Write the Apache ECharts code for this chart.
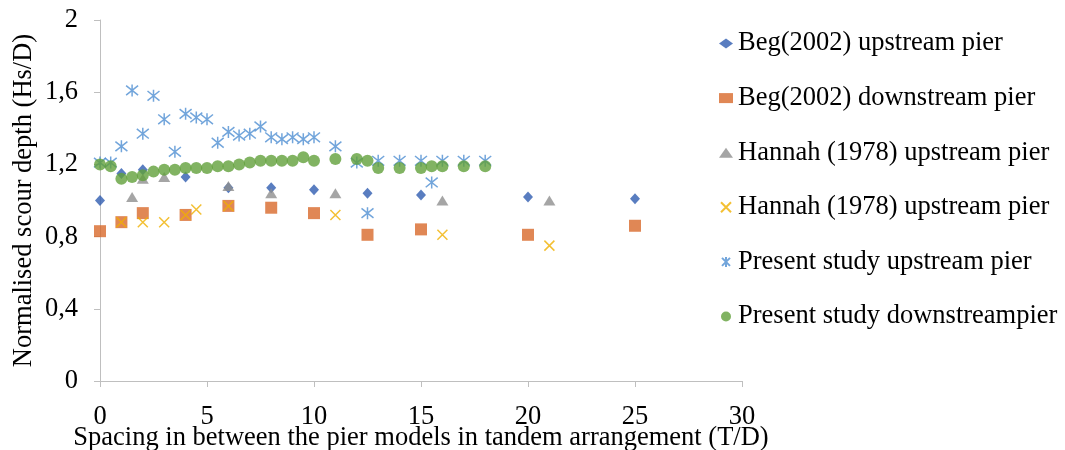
<!DOCTYPE html>
<html>
<head>
    <meta charset="utf-8">
    <script src="https://cdn.jsdelivr.net/npm/echarts@6/dist/echarts.min.js"></script>
</head>
<body style="margin:0">
<div id="main" style="width: 1065px;height:450px;"></div>

<script type="text/javascript">
    // data
    var begX = [0, 1, 2, 4, 6, 8, 10, 12.5, 15, 20, 25];
    var begUp = [1.00, 1.15, 1.17, 1.13, 1.07, 1.07, 1.06, 1.04, 1.03, 1.02, 1.01];
    var begDown = [0.83, 0.88, 0.93, 0.92, 0.97, 0.96, 0.93, 0.81, 0.84, 0.81, 0.86];

    var hannahUpX = [1.5, 2, 3, 6, 8, 11, 16, 21];
    var hannahUp = [1.02, 1.12, 1.13, 1.08, 1.04, 1.04, 1.00, 1.00];
    var hannahCrossX = [1, 2, 3, 4, 4.5, 6, 11, 16, 21];
    var hannahCross = [0.88, 0.88, 0.88, 0.92, 0.95, 0.97, 0.92, 0.81, 0.75];

    var presentX = [0, 0.5, 1, 1.5, 2, 2.5, 3, 3.5, 4, 4.5, 5, 5.5, 6, 6.5, 7, 7.5, 8, 8.5, 9, 9.5, 10, 11, 12, 12.5, 13, 14, 15, 15.5, 16, 17, 18];
    var presentUp = [1.21, 1.21, 1.30, 1.61, 1.37, 1.58, 1.45, 1.27, 1.48, 1.46, 1.45, 1.32, 1.38, 1.36, 1.37, 1.41, 1.35, 1.34, 1.35, 1.34, 1.35, 1.30, 1.21, 0.93, 1.22, 1.22, 1.22, 1.10, 1.22, 1.22, 1.22];
    var presentDown = [1.20, 1.19, 1.12, 1.13, 1.14, 1.16, 1.17, 1.17, 1.18, 1.18, 1.18, 1.19, 1.19, 1.20, 1.21, 1.22, 1.22, 1.22, 1.22, 1.24, 1.22, 1.23, 1.23, 1.22, 1.18, 1.18, 1.18, 1.19, 1.19, 1.19, 1.19];

    var pair = function (xs, ys) {
        var out = [];
        for (var i = 0; i < xs.length; i++) out.push([xs[i], ys[i]]);
        return out;
    };

    var crossPath = 'path://M0,0L10,10M10,0L0,10';
    var starPath = 'path://M1,1L9,9M9,1L1,9M5,0L5,10';
    var font = 'Liberation Serif';
    var fs = 26.5;

    var myChart = echarts.init(document.getElementById('main'));

    var option = {
        animation: false,
        textStyle: {fontFamily: font},
        grid: {left: 100, right: 323, top: 20, bottom: 69, outerBoundsMode: 'none'},
        legend: {
            orient: 'vertical',
            left: 714,
            top: 25,
            itemWidth: 14,
            itemHeight: 10,
            itemGap: 27.6,
            textStyle: {fontFamily: font, fontSize: fs, color: '#000'}
        },
        xAxis: {
            type: 'value',
            min: 0, max: 30, interval: 5,
            name: 'Spacing in between the pier models in tandem arrangement (T/D)',
            nameLocation: 'middle',
            nameGap: 44,
            nameMoveOverlap: false,
            nameTextStyle: {fontFamily: font, fontSize: fs, color: '#000'},
            axisLine: {lineStyle: {color: '#bfbfbf', width: 1}},
            axisTick: {show: true, length: 6, lineStyle: {color: '#bfbfbf'}},
            axisLabel: {margin: 23, fontFamily: font, fontSize: fs, color: '#000'},
            splitLine: {show: false}
        },
        yAxis: {
            type: 'value',
            min: 0, max: 2, interval: 0.4,
            name: 'Normalised scour depth (Hs/D)',
            nameLocation: 'middle',
            nameGap: 62,
            nameMoveOverlap: false,
            nameTextStyle: {fontFamily: font, fontSize: fs, color: '#000'},
            axisLine: {show: true, lineStyle: {color: '#bfbfbf', width: 1}},
            axisTick: {show: true, length: 6, lineStyle: {color: '#bfbfbf'}},
            axisLabel: {
                margin: 22, fontFamily: font, fontSize: fs, color: '#000',
                formatter: function (v) {
                    return String(Math.round(v * 10) / 10).replace('.', ',');
                }
            },
            splitLine: {show: false}
        },
        series: [
            {
                name: 'Beg(2002) upstream pier', type: 'scatter',
                symbol: 'diamond', symbolSize: [10, 11],
                itemStyle: {color: '#2f5db0'},
                data: pair(begX, begUp)
            },
            {
                name: 'Beg(2002) downstream pier', type: 'scatter',
                symbol: 'rect', symbolSize: 12,
                itemStyle: {color: '#d8692a'},
                data: pair(begX, begDown)
            },
            {
                name: 'Hannah (1978) upstream pier', type: 'scatter',
                symbol: 'triangle', symbolSize: [12, 10],
                itemStyle: {color: '#8f8f8f'},
                data: pair(hannahUpX, hannahUp)
            },
            {
                name: 'Hannah (1978) upstream pier ', type: 'scatter',
                symbol: crossPath, symbolSize: 10,
                itemStyle: {color: 'transparent', borderColor: '#f0b000', borderWidth: 1.5},
                data: pair(hannahCrossX, hannahCross)
            },
            {
                name: 'Present study upstream pier', type: 'scatter',
                symbol: starPath, symbolSize: 12,
                itemStyle: {color: 'transparent', borderColor: '#4f8fd2', borderWidth: 1.5},
                data: pair(presentX, presentUp)
            },
            {
                name: 'Present study downstreampier', type: 'scatter',
                symbol: 'circle', symbolSize: 12,
                itemStyle: {color: '#62a03b'},
                data: pair(presentX, presentDown)
            }
        ]
    };

    myChart.setOption(option);
</script>
</body>
</html>
